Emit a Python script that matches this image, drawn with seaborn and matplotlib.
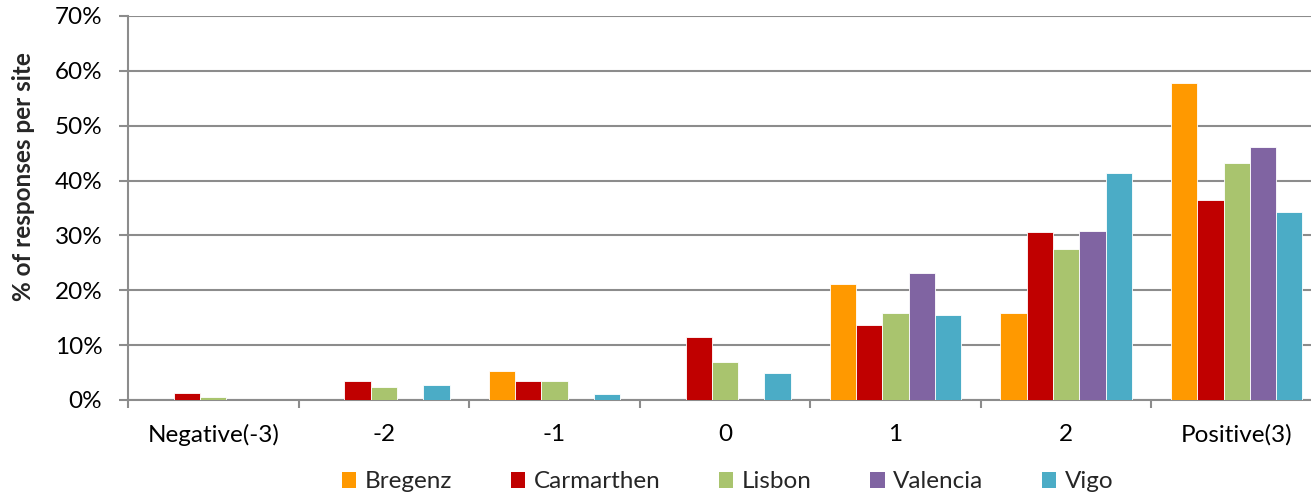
import pandas as pd
import numpy as np
import matplotlib
matplotlib.use("Agg")
import matplotlib.pyplot as plt
import seaborn as sns
from matplotlib.ticker import FixedLocator, PercentFormatter
from matplotlib.patches import Patch

# --- data (% of responses per site) ---
categories = ["Negative(-3)", "-2", "-1", "0", "1", "2", "Positive(3)"]
sites = ["Bregenz", "Carmarthen", "Lisbon", "Valencia", "Vigo"]

bregenz = [0.0, 0.0, 5.2, 0.0, 21.1, 15.8, 57.8]
carmarthen = [1.2, 3.4, 3.4, 11.4, 13.6, 30.7, 36.4]
lisbon = [0.5, 2.3, 3.5, 7.0, 15.8, 27.5, 43.2]
valencia = [0.0, 0.0, 0.0, 0.0, 23.1, 30.8, 46.1]
vigo = [0.0, 2.7, 1.1, 4.9, 15.5, 41.4, 34.2]

site_colors = ["#FF9900", "#C00000", "#A9C46E", "#8064A2", "#4BACC6"]

# long format for seaborn
rows = []
for site, vals in zip(sites, [bregenz, carmarthen, lisbon, valencia, vigo]):
    for cat, v in zip(categories, vals):
        rows.append({"Rating": cat, "Site": site, "Pct": v})
df = pd.DataFrame(rows)

sns.set_theme(style="white")
plt.rcParams["font.family"] = ["Lato", "DejaVu Sans"]

fig = plt.figure(figsize=(13.11, 5.0), dpi=100)
ax = fig.add_axes([128 / 1311, 0.2, 1194 / 1311, 0.768])

grid_col = "#8C8C8C"
fs = 17.5

sns.barplot(data=df, x="Rating", y="Pct", hue="Site", order=categories,
            hue_order=sites, palette=site_colors, saturation=1, width=0.77,
            gap=0, edgecolor="white", linewidth=0.6, errorbar=None, ax=ax,
            legend=False, zorder=3)

ax.set_xlim(-0.5, len(categories) - 0.5)
ax.set_ylim(0, 70)
ax.set_yticks(np.arange(0, 71, 10))
ax.yaxis.set_major_formatter(PercentFormatter(decimals=0))
ax.yaxis.grid(True, color=grid_col, linewidth=1.5, zorder=0)
ax.set_axisbelow(True)

# category boundary ticks on x
ax.xaxis.set_minor_locator(FixedLocator(np.arange(-0.5, len(categories), 1.0)))
ax.tick_params(axis="x", which="major", length=0, pad=17, labelsize=fs,
               colors="black")
ax.tick_params(axis="x", which="minor", length=6, width=1.5, color=grid_col,
               bottom=True)
ax.tick_params(axis="y", which="major", length=6.5, width=1.5, color=grid_col,
               left=True, pad=12, labelsize=fs, colors="black")

for side in ["top", "right"]:
    ax.spines[side].set_visible(False)
for side in ["left", "bottom"]:
    ax.spines[side].set_color(grid_col)
    ax.spines[side].set_linewidth(1.5)

ax.set_xlabel("")
ax.set_ylabel("% of responses per site", fontsize=17.5, fontweight="bold")
ax.yaxis.set_label_coords(-0.078, 0.583)

handles = [Patch(facecolor=c, edgecolor="none") for c in site_colors]
fig.legend(handles, sites, loc="center", bbox_to_anchor=(0.555, 0.036),
           ncol=5, frameon=False, fontsize=fs, handlelength=0.6,
           handleheight=0.6, handletextpad=0.35, columnspacing=2.4)

fig.savefig("out.png", dpi=100)
